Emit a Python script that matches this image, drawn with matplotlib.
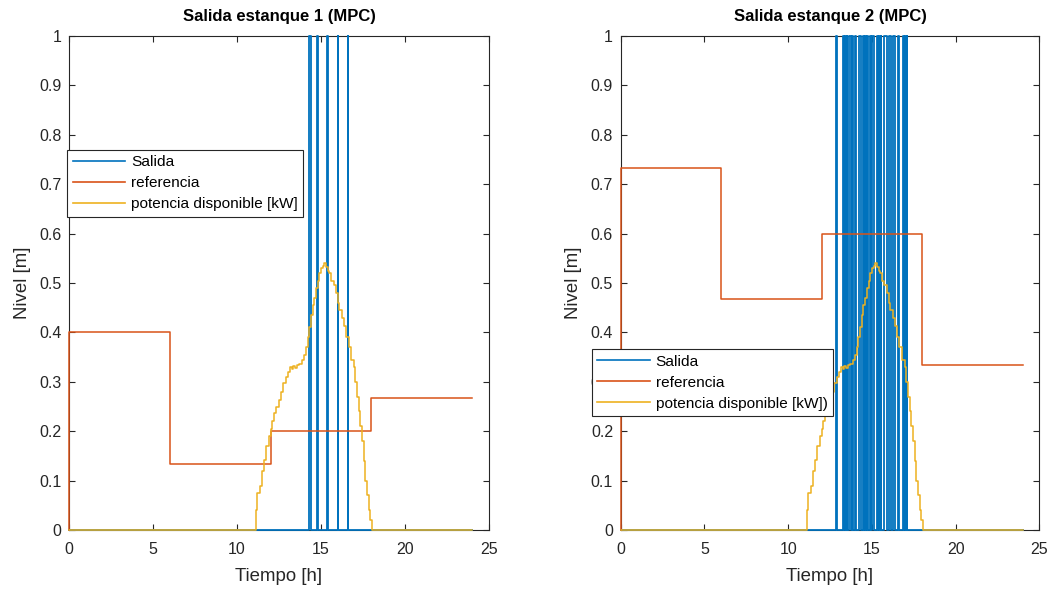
import numpy as np
import matplotlib
matplotlib.use('Agg')
import matplotlib.pyplot as plt

plt.rcParams['font.family'] = ['Liberation Sans', 'DejaVu Sans']

# potencia disponible [kW] (escalada), tiempo en horas
pot_t = [0, 11.11, 11.20, 11.35, 11.47, 11.60, 11.75, 11.90, 12.00, 12.10,
         12.20, 12.35, 12.50, 12.62, 12.75, 12.90, 13.05, 13.15, 13.25, 13.35,
         13.45, 13.55, 13.70, 13.85, 14.00, 14.10, 14.20, 14.30, 14.40, 14.50,
         14.60, 14.70, 14.80, 14.90, 15.00, 15.10, 15.20, 15.30, 15.40, 15.50,
         15.60, 15.75, 15.90, 16.00, 16.10, 16.25, 16.40, 16.50, 16.65, 16.80,
         16.95, 17.05, 17.15, 17.25, 17.35, 17.45, 17.55, 17.65, 17.75, 17.85,
         17.95, 18.05, 24]
pot_v = [0, 0.04, 0.074, 0.09, 0.12, 0.142, 0.17, 0.19, 0.205, 0.22,
         0.236, 0.25, 0.263, 0.28, 0.297, 0.31, 0.32, 0.33, 0.325, 0.332,
         0.328, 0.333, 0.337, 0.345, 0.355, 0.37, 0.39, 0.41, 0.435, 0.455,
         0.47, 0.49, 0.505, 0.52, 0.53, 0.535, 0.54, 0.532, 0.525, 0.52,
         0.505, 0.495, 0.48, 0.46, 0.445, 0.43, 0.412, 0.39, 0.37, 0.345,
         0.33, 0.30, 0.27, 0.24, 0.21, 0.18, 0.14, 0.10, 0.07, 0.04,
         0.02, 0.0, 0.0]

# referencias
ref_t = [0, 0, 6, 12, 18, 24]
ref1_v = [0, 0.4, 0.1333, 0.2, 0.2667, 0.2667]
ref2_v = [0, 0.7333, 0.4667, 0.6, 0.3333, 0.3333]

# salida: pulsos (inicio, fin) en horas, saturan en 1
salida1_on = [14.29, 14.79, 15.38, 15.99, 16.59]
salida1_off = [14.41, 14.83, 15.40, 16.03, 16.63]
salida2_on = [12.88, 13.26, 13.38, 13.49, 13.66, 13.79, 13.97, 14.21, 14.45,
              14.57, 14.68, 14.89, 15.03, 15.29, 15.41, 15.52, 15.73, 16.01,
              16.29, 16.57, 16.84, 16.97, 17.08]
salida2_off = [12.93, 13.33, 13.45, 13.54, 13.74, 13.86, 14.08, 14.33, 14.52,
               14.64, 14.74, 14.97, 15.13, 15.36, 15.48, 15.57, 15.89, 16.13,
               16.41, 16.65, 16.92, 17.04, 17.12]
salida_alto = 1.0

c_blue = (0, 0.447, 0.741)
c_orange = (0.85, 0.325, 0.098)
c_yellow = (0.929, 0.694, 0.125)
c_axis = (0.15, 0.15, 0.15)


def pulsos(on, off, alto):
    t = [0]
    v = [0]
    for a, b in zip(on, off):
        t += [a, b]
        v += [alto, 0]
    t.append(24)
    v.append(0)
    return t, v


fig = plt.figure(figsize=(10.55, 5.89), dpi=100)
ax1 = fig.add_axes([69.3 / 1055, 1 - 530 / 589, 419.4 / 1055, 494 / 589])
ax2 = fig.add_axes([620.7 / 1055, 1 - 530 / 589, 418.6 / 1055, 494 / 589])

paneles = [
    (ax1, salida1_on, salida1_off, ref1_v, 'Salida estanque 1 (MPC)',
     'potencia disponible [kW]', (67.3 / 1055, 1 - 150 / 589)),
    (ax2, salida2_on, salida2_off, ref2_v, 'Salida estanque 2 (MPC)',
     'potencia disponible [kW])', (591.7 / 1055, 1 - 349.3 / 589)),
]

for ax, on, off, ref_v, titulo, lab_pot, pos_leg in paneles:
    st, sv = pulsos(on, off, salida_alto)
    ax.plot(st, sv, drawstyle='steps-post', color=c_blue, lw=1.3,
            label='Salida', zorder=3, clip_on=False)
    ax.plot(ref_t, ref_v, drawstyle='steps-post', color=c_orange, lw=1.1,
            label='referencia', zorder=3, clip_on=False)
    ax.plot(pot_t, pot_v, drawstyle='steps-post', color=c_yellow, lw=1.1,
            label=lab_pot, zorder=3, clip_on=False)

    ax.set_xlim(0, 25)
    ax.set_ylim(0, 1)
    ax.set_xticks(np.arange(0, 26, 5))
    ax.set_yticks(np.round(np.arange(0, 1.01, 0.1), 1))
    ax.set_yticklabels(['0', '0.1', '0.2', '0.3', '0.4', '0.5', '0.6', '0.7',
                        '0.8', '0.9', '1'])
    ax.tick_params(direction='in', top=True, right=True, length=4,
                   width=0.8, color=c_axis, labelcolor=c_axis, labelsize=11.5)
    ax.tick_params(axis='x', pad=8.5)
    ax.tick_params(axis='y', pad=5.5)
    for s in ax.spines.values():
        s.set_color(c_axis)
        s.set_linewidth(0.8)
    ax.set_xlabel('Tiempo [h]', fontsize=13.4, color=c_axis, labelpad=8)
    ax.set_ylabel('Nivel [m]', fontsize=13.4, color=c_axis, labelpad=6)
    ax.set_title(titulo, fontsize=12, fontweight='bold', pad=11)

    leg = ax.legend(loc='upper left', bbox_to_anchor=pos_leg,
                    bbox_transform=fig.transFigure, fontsize=11.1,
                    handlelength=3.4, handletextpad=0.4, borderpad=0.35,
                    labelspacing=0.45, fancybox=False, framealpha=1,
                    borderaxespad=0)
    leg.set_zorder(5)
    leg.get_frame().set_edgecolor(c_axis)
    leg.get_frame().set_linewidth(0.8)
    for line in leg.get_lines():
        line.set_linewidth(1.2)

fig.savefig('out.png', dpi=100)
